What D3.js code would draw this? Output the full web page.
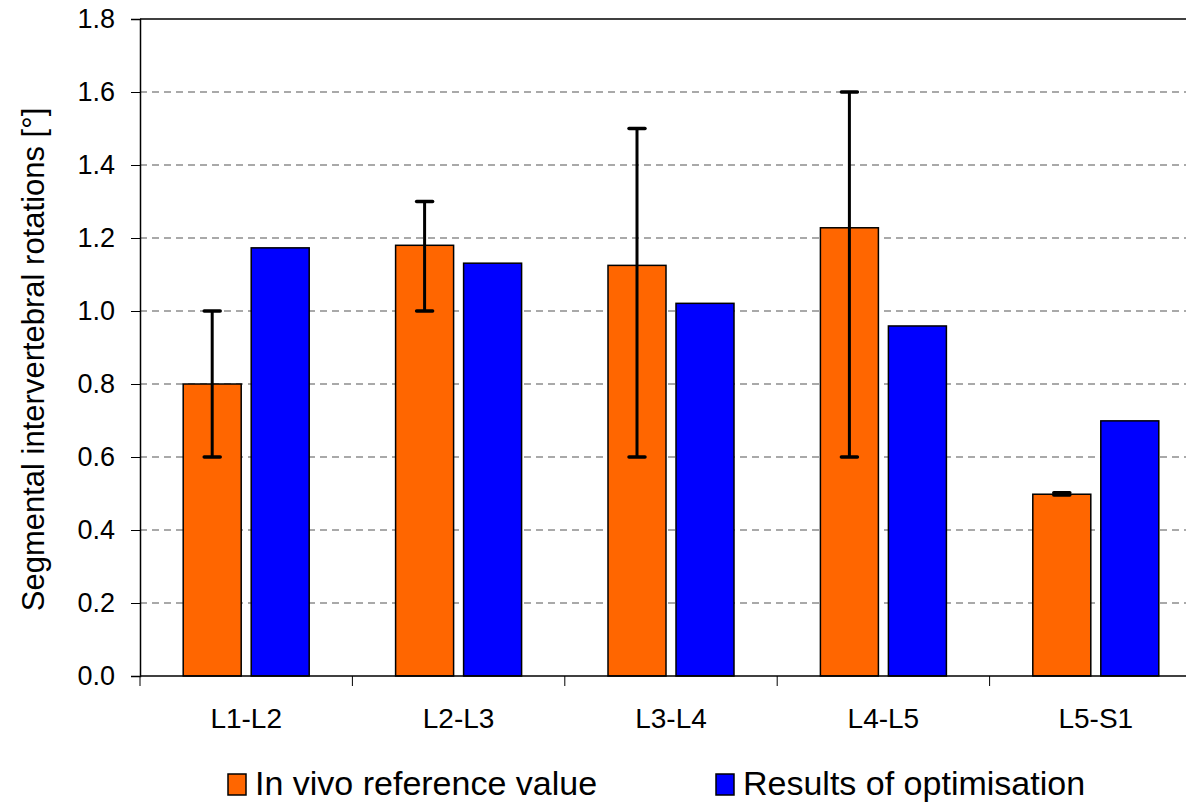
<!DOCTYPE html>
<html lang="en">
<head>
<meta charset="UTF-8">
<title>Segmental intervertebral rotations</title>
<script src="https://d3js.org/d3.v7.min.js"></script>
<style>
  body { margin: 0; background: #fff; }
  svg { display: block; font-family: "Liberation Sans", Arial, sans-serif; }
</style>
</head>
<body>
<script>
    // data
    var segments = ["L1-L2", "L2-L3", "L3-L4", "L4-L5", "L5-S1"];
    var inVivo = [0.80, 1.18, 1.125, 1.228, 0.498];
    var errLow = [0.60, 1.00, 0.60, 0.60, 0.496];
    var errHigh = [1.00, 1.30, 1.50, 1.60, 0.502];
    var optimised = [1.173, 1.131, 1.021, 0.959, 0.699];
    var yTicks = [0, 0.2, 0.4, 0.6, 0.8, 1.0, 1.2, 1.4, 1.6, 1.8];
    var seriesNames = ["In vivo reference value", "Results of optimisation"];
    var colors = ["#ff6600", "#0000ff"];

    var width = 1186, height = 803;
    var margin = {top: 19, right: -16, bottom: 127, left: 140};

    const svg = d3.select("body").append("svg")
        .attr("width", width)
        .attr("height", height);

    var x = d3.scaleBand()
        .domain(segments)
        .range([margin.left, width - margin.right]);

    var y = d3.scaleLinear()
        .domain([0, 1.8])
        .range([height - margin.bottom, margin.top]);

    var barW = 58, gap = 10;

    // grid
    svg.append("g")
        .selectAll("line")
        .data(yTicks.slice(1, -1))
        .join("line")
        .attr("x1", margin.left)
        .attr("x2", width)
        .attr("y1", d => y(d))
        .attr("y2", d => y(d))
        .attr("stroke", "#555")
        .attr("stroke-width", 1.2)
        .attr("stroke-dasharray", "7,5");

    // top frame line
    svg.append("line")
        .attr("x1", margin.left).attr("x2", width)
        .attr("y1", y(1.8)).attr("y2", y(1.8))
        .attr("stroke", "#000").attr("stroke-width", 1.5);

    // bars
    const g = svg.append("g");
    segments.forEach((s, i) => {
        var cx = x(s) + x.bandwidth() / 2;
        g.append("rect")
            .attr("x", cx - gap / 2 - barW)
            .attr("y", y(inVivo[i]))
            .attr("width", barW)
            .attr("height", y(0) - y(inVivo[i]))
            .attr("fill", colors[0])
            .attr("stroke", "#000")
            .attr("stroke-width", 1.5);
        g.append("rect")
            .attr("x", cx + gap / 2)
            .attr("y", y(optimised[i]))
            .attr("width", barW)
            .attr("height", y(0) - y(optimised[i]))
            .attr("fill", colors[1])
            .attr("stroke", "#000")
            .attr("stroke-width", 1.5);

        // error bar on the in vivo value
        var ex = cx - gap / 2 - barW / 2;
        g.append("line")
            .attr("x1", ex).attr("x2", ex)
            .attr("y1", y(errLow[i])).attr("y2", y(errHigh[i]))
            .attr("stroke", "#000").attr("stroke-width", 3);
        [errLow[i], errHigh[i]].forEach(v => {
            g.append("line")
                .attr("x1", ex - 8).attr("x2", ex + 8)
                .attr("y1", y(v)).attr("y2", y(v))
                .attr("stroke", "#000").attr("stroke-width", 3.5)
                .attr("stroke-linecap", "round");
        });
    });

    // y axis
    const yAxis = svg.append("g")
        .attr("transform", `translate(${margin.left},0)`)
        .call(d3.axisLeft(y).tickValues(yTicks).tickFormat(d3.format(".1f")).tickSize(9).tickPadding(16));
    yAxis.select(".domain").attr("stroke", "#000").attr("stroke-width", 1.5);
    yAxis.selectAll(".tick line").attr("stroke", "#000").attr("stroke-width", 1);
    yAxis.selectAll("text")
        .attr("font-size", 27)
        .attr("fill", "#000");

    // x axis
    const xAxis = svg.append("g")
        .attr("transform", `translate(0,${y(0)})`);
    xAxis.append("line")
        .attr("x1", margin.left).attr("x2", width)
        .attr("stroke", "#000").attr("stroke-width", 1.5);
    xAxis.selectAll("line.tk")
        .data(segments)
        .join("line")
        .attr("class", "tk")
        .attr("x1", d => x(d)).attr("x2", d => x(d))
        .attr("y1", 0).attr("y2", 10)
        .attr("stroke", "#000").attr("stroke-width", 1);
    xAxis.selectAll("text")
        .data(segments)
        .join("text")
        .attr("x", d => x(d) + x.bandwidth() / 2)
        .attr("y", 52)
        .attr("text-anchor", "middle")
        .attr("font-size", 28)
        .text(d => d);

    // y label
    svg.append("text")
        .attr("transform", `translate(44,${(y(0) + y(1.8)) / 2 + 12}) rotate(-90)`)
        .attr("text-anchor", "middle")
        .attr("font-size", 31)
        .text("Segmental intervertebral rotations [°]");

    // legend
    var legendX = [228, 716];
    const legend = svg.append("g");
    seriesNames.forEach((n, i) => {
        legend.append("rect")
            .attr("x", legendX[i]).attr("y", 774)
            .attr("width", 18).attr("height", 21)
            .attr("fill", colors[i])
            .attr("stroke", "#000").attr("stroke-width", 1.5);
        legend.append("text")
            .attr("x", legendX[i] + 27).attr("y", 795)
            .attr("font-size", 34)
            .text(n);
    });
</script>
</body>
</html>
